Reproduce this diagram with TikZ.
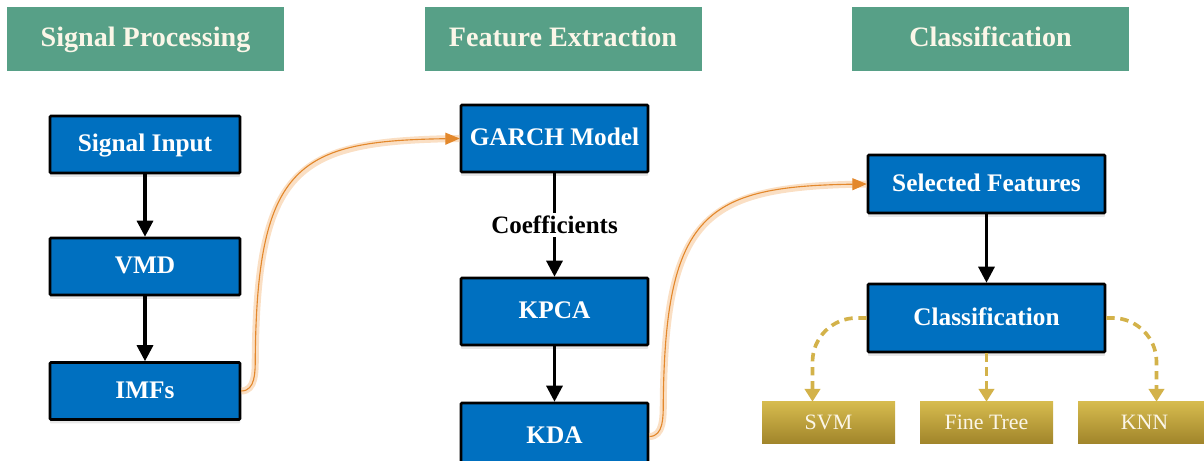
\documentclass[tikz,border=0pt]{standalone}
\usepackage{fontspec}
\setmainfont{Liberation Serif}
\usetikzlibrary{graphs,quotes,arrows.meta,shadows,calc}

\definecolor{headgreen}{HTML}{57A087}
\definecolor{headtext}{HTML}{FBF6E8}
\definecolor{boxblue}{HTML}{0070C0}
\definecolor{goldtop}{HTML}{D6BB4E}
\definecolor{goldbot}{HTML}{A0842A}
\definecolor{floworange}{HTML}{E3882C}
\definecolor{flowglow}{HTML}{F6C08A}
\definecolor{dashgold}{HTML}{D3B24A}

\tikzset{
	headbox/.style={fill=headgreen, text=headtext, font=\bfseries\fontsize{20}{24}\selectfont, minimum width=6.925cm, minimum height=1.6cm, inner sep=0pt, text height=15pt, text depth=4.6pt},
	blockbox/.style={draw=black, line width=1.8pt, fill=boxblue, text=white, font=\bfseries\fontsize{18}{22}\selectfont, inner sep=0pt, text height=13.5pt, text depth=3.5pt, rounded corners=0.6pt, drop shadow={shadow xshift=0pt, shadow yshift=-0.1cm, opacity=0.18}},
	methodbox/.style={top color=goldtop, bottom color=goldbot, text=headtext, font=\fontsize{15.6}{18}\selectfont, minimum width=3.325cm, minimum height=1.05cm, inner sep=0pt, text height=12.6pt, text depth=3pt},
	orangeflow/.style={draw=floworange, line width=0.8pt, -{Triangle[length=0.36cm,width=0.3cm]}, preaction={draw=flowglow, line width=5pt, opacity=0.5, arrows=-}},
	dashedflow/.style={draw=dashgold, line width=2.6pt, dash pattern=on 6pt off 4pt, -{Triangle[length=0.32cm,width=0.38cm]}}
}

\begin{document}
\begin{tikzpicture}[>={Triangle[length=0.4cm,width=0.4cm]}]
				\useasboundingbox (0,0) rectangle (30.1,11.525);
				\clip (0,0) rectangle (30.1,11.525);
				% stage headers
				\node[headbox] (hsp) at (3.6375,10.55) {Signal Processing};
				\node[headbox] (hfe) at (14.075,10.55) {Feature Extraction};
				\node[headbox] (hcl) at (24.7625,10.55) {Classification};
				\graph [no placement, edges={line width=2.2pt}, edge quotes={fill=white, text=black, font=\bfseries\fontsize{17.8}{20}\selectfont, inner sep=2pt}] {
					si/"Signal Input"[blockbox, minimum width=4.75cm, minimum height=1.425cm, x=3.625, y=7.9125] -> vmd/VMD[blockbox, minimum width=4.75cm, minimum height=1.425cm, x=3.625, y=4.8625] -> imfs/IMFs[blockbox, minimum width=4.75cm, minimum height=1.425cm, x=3.625, y=1.75],
					garch/"GARCH Model"[blockbox, minimum width=4.675cm, minimum height=1.675cm, x=13.8625, y=8.0625] ->["Coefficients"] kpca/KPCA[blockbox, minimum width=4.675cm, minimum height=1.675cm, x=13.8625, y=3.7375] -> kda/KDA[blockbox, minimum width=4.675cm, minimum height=1.675cm, x=13.8625, y=0.6125],
					sel/"Selected Features"[blockbox, minimum width=5.925cm, minimum height=1.45cm, x=24.6625, y=6.925] -> cls/Classification[blockbox, minimum width=5.925cm, minimum height=1.7cm, x=24.6625, y=3.575],
					svm/SVM[methodbox, x=20.7125, y=0.95], ftree/"Fine Tree"[methodbox, x=24.6625, y=0.95], knn/KNN[methodbox, x=28.6125, y=0.95],
					cls --[dashedflow] ftree
				};
				% links between the stages
				\draw[orangeflow] (imfs.east) to[out=0,in=-90] ($(imfs.east)+(0.35,0.85)$) .. controls +(0.05,4.85) and +(-4,-0.06) .. (garch.west);
				\draw[orangeflow] (kda.east) to[out=0,in=-90] ($(kda.east)+(0.35,0.85)$) .. controls +(0.05,4.75) and +(-4,-0.06) .. (sel.west);
				\draw[dashedflow, rounded corners=1.1cm] (cls.west) -| ([xshift=-0.4cm]svm.north);
				\draw[dashedflow, rounded corners=1.1cm] (cls.east) -| ([xshift=0.3cm]knn.north);
			\end{tikzpicture}
\end{document}
